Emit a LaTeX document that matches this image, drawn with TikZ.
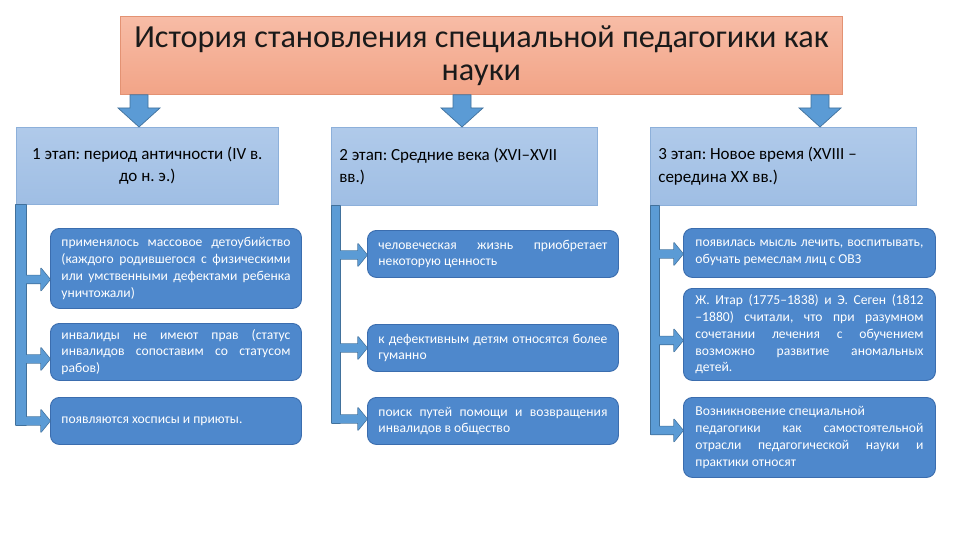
\documentclass[tikz,border=0pt]{standalone}
\usepackage{fontspec}
\setmainfont{Carlito}
\usetikzlibrary{calc}
\frenchspacing
\definecolor{titlefillA}{HTML}{F7BCA6}
\definecolor{titlefillB}{HTML}{F2A487}
\definecolor{titleborder}{HTML}{E39273}
\definecolor{stagefillA}{HTML}{B0CAEA}
\definecolor{stagefillB}{HTML}{9FBEE4}
\definecolor{stageborder}{HTML}{8DB0DA}
\definecolor{childfill}{HTML}{4E88CC}
\definecolor{childborder}{HTML}{3B6DAE}
\definecolor{arrfill}{HTML}{5B9BD5}
\definecolor{arrborder}{HTML}{41719C}
\definecolor{titletext}{HTML}{1A1A1A}
\newcommand\jl[2][229pt]{\leavevmode\hbox to #1{\spaceskip=0.25em plus 1fil minus 0.1em\relax #2}}
% vertical down block arrow
\newcommand\darrow[4]{%
  \coordinate (t) at (#1 |- #2.south);
  \coordinate (b) at (#1 |- #3.north);
  \path[#4] ($(t)+(-9pt,0pt)$) -- ($(t)+(9pt,0pt)$) -- ($(b)+(9pt,19pt)$) -- ($(b)+(21pt,19pt)$) -- (b)
     -- ($(b)+(-21pt,19pt)$) -- ($(b)+(-9pt,19pt)$) -- cycle;}
% horizontal branch arrow from bar to child
\newcommand\branch[4]{%
  \coordinate (h) at ([yshift=-#3]#2.west);
  \coordinate (s) at (#1 |- h);
  \path[#4] ($(s)+(0pt,4pt)$) -- ($(h)+(-9pt,4pt)$) -- ($(h)+(-9pt,11pt)$) -- (h)
     -- ($(h)+(-9pt,-11pt)$) -- ($(h)+(-9pt,-4pt)$) -- ($(s)+(0pt,-4pt)$) -- cycle;}
% vertical bar
\newcommand\vbar[5]{%
  \coordinate (e) at (#1 |- #2.west);
  \path[#5] (#1) rectangle ($(e)+(#4,-4pt)+(0pt,-#3)$);}
\newcommand\connectors[1]{%
  \vbar{L1}{c1c}{0pt}{10pt}{#1}
  \branch{L1}{c1a}{11pt}{#1}
  \branch{L1}{c1b}{7pt}{#1}
  \branch{L1}{c1c}{0pt}{#1}
  \vbar{L2}{c2c}{-2pt}{8pt}{#1}
  \branch{L2}{c2a}{1pt}{#1}
  \branch{L2}{c2b}{0pt}{#1}
  \branch{L2}{c2c}{-2pt}{#1}
  \vbar{L3}{c3c}{-7pt}{8pt}{#1}
  \branch{L3}{c3a}{1pt}{#1}
  \branch{L3}{c3b}{6pt}{#1}
  \branch{L3}{c3c}{-7pt}{#1}}
\tikzset{
  titlebox/.style={draw=titleborder, line width=0.8pt, top color=titlefillA, bottom color=titlefillB,
    anchor=north west, minimum width=722pt, minimum height=78pt, inner sep=0pt,
    align=center, text=titletext, font=\fontsize{32.2}{33}\selectfont},
  stagebox/.style={draw=stageborder, line width=0.6pt, top color=stagefillA, bottom color=stagefillB,
    anchor=north west, inner xsep=8pt, inner ysep=0pt, text=black,
    font=\fontsize{17}{22.5}\selectfont},
  childbox/.style={draw=childborder, line width=0.9pt, fill=childfill, rounded corners=9pt,
    anchor=north west, inner xsep=11pt, inner ysep=0pt, text=white, align=flush left,
    font=\fontsize{13.6}{16.8}\selectfont},
  arrdraw/.style={draw=arrborder, line width=1.4pt, line join=round},
  arrfillst/.style={fill=arrfill},
  blockarrow/.style={draw=arrborder, line width=0.7pt, fill=arrfill},
}
\begin{document}
\begin{tikzpicture}[x=1pt,y=-1pt]
\useasboundingbox[fill=white] (0,0) rectangle (960,540);
\node[titlebox] (title) at (120,16) {История становления специальной педагогики как\\науки};
% stage boxes
\node[stagebox, minimum width=262pt, minimum height=77pt, text width=246pt, align=flush center] (s1) at (16,127)
  {1 этап: период античности (IV в.\\до н. э.)};
\node[stagebox, minimum width=265pt, minimum height=78pt, text width=250pt, align=flush left] (s2) at (331,127)
  {2 этап: Средние века (XVI–XVII\\вв.)};
\node[stagebox, minimum width=264pt, minimum height=78pt, text width=250pt, align=flush left] (s3) at (650,127)
  {3 этап: Новое время (XVIII –\\середина XX вв.)};
% down arrows
\coordinate (ax1) at (139,0);
\coordinate (ax2) at (462,0);
\coordinate (ax3) at (820,0);
\darrow{ax1}{title}{s1}{blockarrow}
\darrow{ax2}{title}{s2}{blockarrow}
\darrow{ax3}{title}{s3}{blockarrow}
% child boxes
\node[childbox, minimum width=251pt, minimum height=80pt, text width=229pt] (c1a) at (50,228)
  {\jl{применялось массовое детоубийство}\\\jl{(каждого родившегося с физическими}\\\jl{или умственными дефектами ребенка}\\уничтожали)};
\node[childbox, minimum width=251pt, minimum height=57pt, text width=229pt] (c1b) at (50,323)
  {\jl{инвалиды не имеют прав (статус}\\\jl{инвалидов сопоставим со статусом}\\рабов)};
\node[childbox, minimum width=251pt, minimum height=47pt, text width=229pt] (c1c) at (50,397)
  {появляются хосписы и приюты.};
\node[childbox, minimum width=251pt, minimum height=47pt, text width=229pt] (c2a) at (367,230)
  {\jl{человеческая жизнь приобретает}\\некоторую ценность};
\node[childbox, minimum width=251pt, minimum height=47pt, text width=229pt] (c2b) at (367,324)
  {\jl{к дефективным детям относятся более}\\гуманно};
\node[childbox, minimum width=251pt, minimum height=47pt, text width=229pt] (c2c) at (367,397)
  {\jl{поиск путей помощи и возвращения}\\инвалидов в общество};
\node[childbox, minimum width=252pt, minimum height=49pt, text width=228pt] (c3a) at (683,228)
  {\jl[228pt]{появилась мысль лечить, воспитывать,}\\обучать ремеслам лиц с ОВЗ};
\node[childbox, minimum width=252pt, minimum height=92pt, text width=228pt] (c3b) at (683,288)
  {\jl[228pt]{Ж. Итар (1775–1838) и Э. Сеген (1812}\\\jl[228pt]{–1880) считали, что при разумном}\\\jl[228pt]{сочетании лечения с обучением}\\\jl[228pt]{возможно развитие аномальных}\\детей.};
\node[childbox, minimum width=252pt, minimum height=80pt, text width=228pt] (c3c) at (683,397)
  {Возникновение специальной\\\jl[228pt]{педагогики как самостоятельной}\\\jl[228pt]{отрасли педагогической науки и}\\практики относят};
% connectors
\coordinate (L1) at (s1.south west);
\coordinate (L2) at ([xshift=1pt]s2.south west);
\coordinate (L3) at ([xshift=1pt]s3.south west);
\connectors{arrdraw}
\connectors{arrfillst}
\end{tikzpicture}
\end{document}
